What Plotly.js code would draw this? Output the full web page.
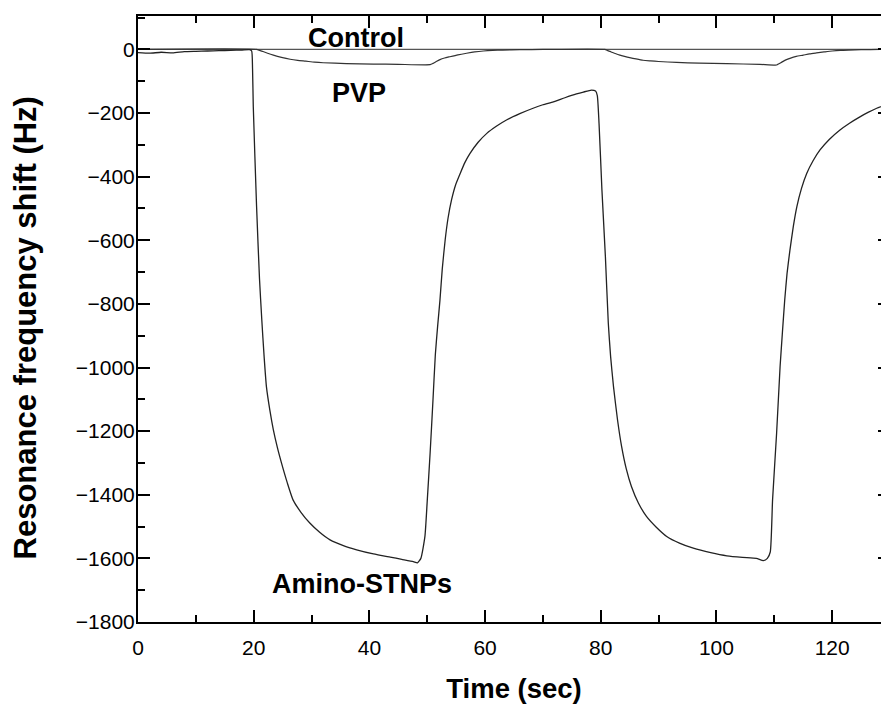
<!DOCTYPE html>
<html>
<head>
<meta charset="utf-8">
<script src="https://cdn.plot.ly/plotly-3.0.1.min.js"></script>
<style>
html,body{margin:0;padding:0;overflow:hidden;background:#fff;}
#chart{width:895px;height:707px;}
</style>
</head>
<body>
<div id="chart"></div>
<script>
// Time (sec) and resonance frequency shift (Hz)
const aminoTime = [0,2,4,6,8,10,12,14,16,18,19.3,19.65,19.8,19.93,20.5,21,21.4,21.8,22.2,22.8,23.4,24.1,24.8,25.8,26.8,28.2,29.7,31.4,33.2,35.5,37.8,40.7,43.6,45.6,47.6,48.3,48.9,49.6,50,50.5,51,51.4,51.8,52.2,52.6,53.1,53.6,54.2,54.9,55.7,56.5,57.4,58.8,60.3,62,63.7,66,68.3,70,71.8,73.8,75.8,77,78.4,79.1,79.4,79.7,80.2,80.8,81.3,81.7,82.2,82.9,83.6,84.4,85.3,86.5,87.9,89.6,91.4,93.6,96,99,101.8,104.5,106.9,108.1,108.8,109.3,109.7,110.4,111,111.4,111.8,112.2,112.7,113.3,113.9,114.7,115.6,116.7,117.9,119.5,121.3,123,124.8,126.2,127.7,130];
const aminoShift = [-10,-12,-9,-11,-7,-6,-5,-4,-3,-2,-1,-5,-60,-180,-494,-720,-850,-965,-1060,-1135,-1196,-1252,-1300,-1362,-1416,-1456,-1489,-1518,-1542,-1560,-1573,-1586,-1596,-1603,-1610,-1614,-1600,-1531,-1420,-1269,-1100,-960,-870,-788,-690,-599,-530,-473,-426,-390,-356,-327,-292,-264,-241,-222,-202,-185,-174,-165,-152,-140,-134,-128,-131,-145,-232,-442,-652,-860,-965,-1060,-1165,-1248,-1318,-1374,-1426,-1468,-1502,-1531,-1552,-1568,-1582,-1592,-1597,-1600,-1607,-1600,-1580,-1416,-1206,-997,-890,-788,-705,-631,-555,-494,-437,-390,-350,-316,-283,-254,-232,-212,-198,-185,-170];

const pvpTime = [0,20.5,21,21.5,22.4,23.4,24.8,26.3,27.6,29,30.5,32,36,40.7,45,50.5,51,51.5,52.2,53,53.9,55.3,56.8,58.2,59.7,61.3,63,66,70,80.7,81.2,81.8,82.5,83.3,84.1,85,86.1,87.3,88.6,90,93.1,97,101.8,107.5,110.4,110.8,111.3,112,112.7,113.8,115,116.1,117.3,118.6,120,121.4,122.8,125,128.3,130];
const pvpShift = [0,0,-3,-6,-12,-18,-25,-31,-34.5,-37,-40,-42,-44.5,-46,-47,-48,-44,-39,-32,-27,-23,-17,-12,-8,-5,-3,-2,-1,0,0,-4,-8,-13,-18,-22,-26,-30,-34,-36,-38,-41,-43,-45,-47,-49,-45,-40,-33,-28,-22,-18,-14,-11,-8,-5,-3,-2,-1,0,0];

const controlTime = [0,40,80,130];
const controlShift = [0,0,0,0];

const labels = ['Control','PVP','Amino-STNPs'];
const labelX = [37.6, 38.2, 38.7];
const labelY = [35, -137, -1682];

const xTicks = [0,20,40,60,80,100,120];
const yTicks = [0,-200,-400,-600,-800,-1000,-1200,-1400,-1600,-1800];
const yTitle = 'Resonance frequency shift (Hz)';

const traces = [
  {x: controlTime, y: controlShift, mode:'lines', line:{color:'#555', width:1.1}, name:labels[0]},
  {x: pvpTime, y: pvpShift, mode:'lines', line:{color:'#333', width:1.2, shape:'spline', smoothing:0.5}, name:labels[1]},
  {x: aminoTime, y: aminoShift, mode:'lines', line:{color:'#222', width:1.3, shape:'spline', smoothing:0.5}, name:labels[2]}
];

const annotations = labels.map((t,i) => ({
  x: labelX[i], y: labelY[i], xref:'x', yref:'y', text:'<b>'+t+'</b>',
  showarrow:false, xanchor:'center', yanchor:'middle',
  font:{size:27, color:'#000'}
}));
annotations.push({
  x: -0.149, y: 0.486, xref:'paper', yref:'paper', text:'<b>'+yTitle+'</b>',
  textangle:-90, showarrow:false, xanchor:'center', yanchor:'middle',
  font:{size:31, color:'#000'}
});

const layout = {
  width: 895, height: 707,
  margin: {l:138, r:5, t:16, b:85},
  paper_bgcolor:'#fff', plot_bgcolor:'#fff',
  showlegend:false,
  font:{family:'Liberation Sans, Arial, sans-serif', color:'#000'},
  xaxis: {
    range:[0,130], tickvals:xTicks, ticktext:xTicks.map(String),
    showline:true, linecolor:'#000', linewidth:2, mirror:'ticks',
    ticks:'inside', ticklen:12, tickwidth:2, tickcolor:'#000',
    minor:{dtick:10, tick0:0, ticks:'inside', ticklen:7, tickwidth:2, tickcolor:'#000'},
    showgrid:false, zeroline:false,
    tickfont:{size:21, color:'#000'}, ticklabelstandoff:6,
    title:{text:'<b>Time (sec)</b>', font:{size:27.5, color:'#000'}, standoff:21}
  },
  yaxis: {
    range:[-1800,105], tickvals:yTicks, ticktext:yTicks.map(v => v<0 ? '\u2212'+Math.abs(v) : String(v)),
    showline:true, linecolor:'#000', linewidth:2, mirror:'ticks',
    ticks:'inside', ticklen:12, tickwidth:2, tickcolor:'#000',
    minor:{dtick:100, tick0:0, ticks:'inside', ticklen:7, tickwidth:2, tickcolor:'#000'},
    showgrid:false, zeroline:false,
    tickfont:{size:21, color:'#000'}, ticklabelstandoff:-3
  },
  annotations: annotations
};

Plotly.newPlot('chart', traces, layout, {displayModeBar:false, staticPlot:true});
</script>
</body>
</html>
